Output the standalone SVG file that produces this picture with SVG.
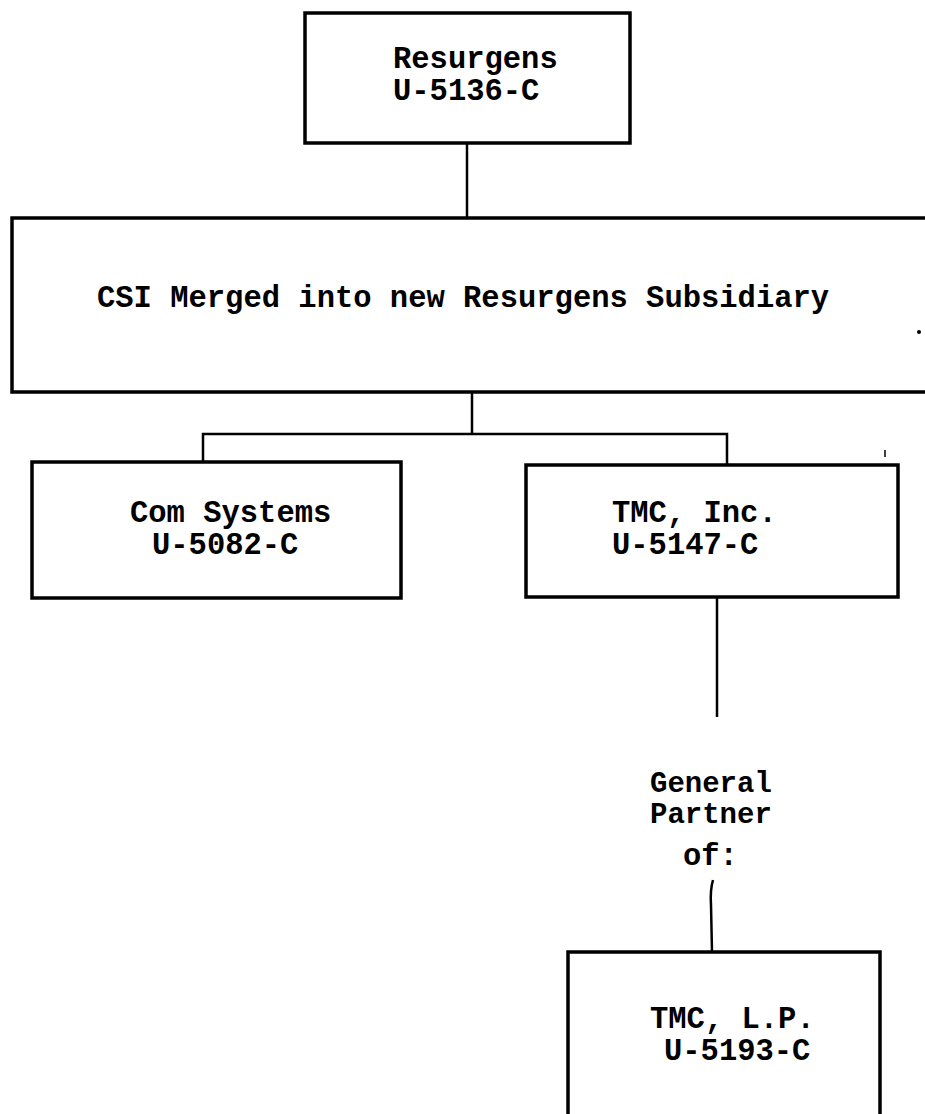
<svg xmlns="http://www.w3.org/2000/svg" width="925" height="1114" viewBox="0 0 925 1114">
<style>
.box{fill:none;stroke:#000;stroke-width:3.5;stroke-linejoin:miter}
.conn{fill:none;stroke:#000;stroke-width:2.5}
text{font-family:"Liberation Mono","Courier New",monospace;font-size:30.5px;font-weight:bold;fill:#000}
.gp{font-size:29px}
</style>
<rect width="925" height="1114" fill="#fff"/>
<g id="connectors">
<line class="conn" x1="467" y1="143" x2="467" y2="218"/>
<line class="conn" x1="472" y1="392" x2="472" y2="434"/>
<polyline class="conn" points="203,462 203,434 727,434 727,465"/>
<line class="conn" x1="717" y1="597" x2="717" y2="717"/>
<path class="conn" d="M713,880 Q710,890 711,905 L712,952"/>
</g>
<g id="node-resurgens">
<rect class="box" x="305" y="13" width="325" height="130"/>
<text x="393" y="68">Resurgens</text>
<text x="393" y="100">U-5136-C</text>
</g>
<g id="node-csi">
<path class="box" d="M930,218 L12,218 L12,392 L930,392"/>
<text x="97" y="307">CSI Merged into new Resurgens Subsidiary</text>
</g>
<g id="node-com">
<rect class="box" x="32" y="462" width="369" height="136"/>
<text x="130" y="522">Com Systems</text>
<text x="152" y="554">U-5082-C</text>
</g>
<g id="node-tmc-inc">
<rect class="box" x="526" y="465" width="372" height="132"/>
<text x="612" y="522">TMC, Inc.</text>
<text x="612" y="554">U-5147-C</text>
</g>
<g id="label-gp">
<text class="gp" x="650" y="792">General</text>
<text class="gp" x="650" y="823">Partner</text>
<text x="683" y="865">of:</text>
</g>
<g id="node-tmc-lp">
<path class="box" d="M568,1120 L568,952 L880,952 L880,1120"/>
<text x="650" y="1028">TMC, L.P.</text>
<text x="664" y="1060">U-5193-C</text>
</g>
<circle cx="919" cy="332" r="2" fill="#000"/>
<line x1="885" y1="450" x2="885" y2="457" stroke="#000" stroke-width="1.5"/>
</svg>
